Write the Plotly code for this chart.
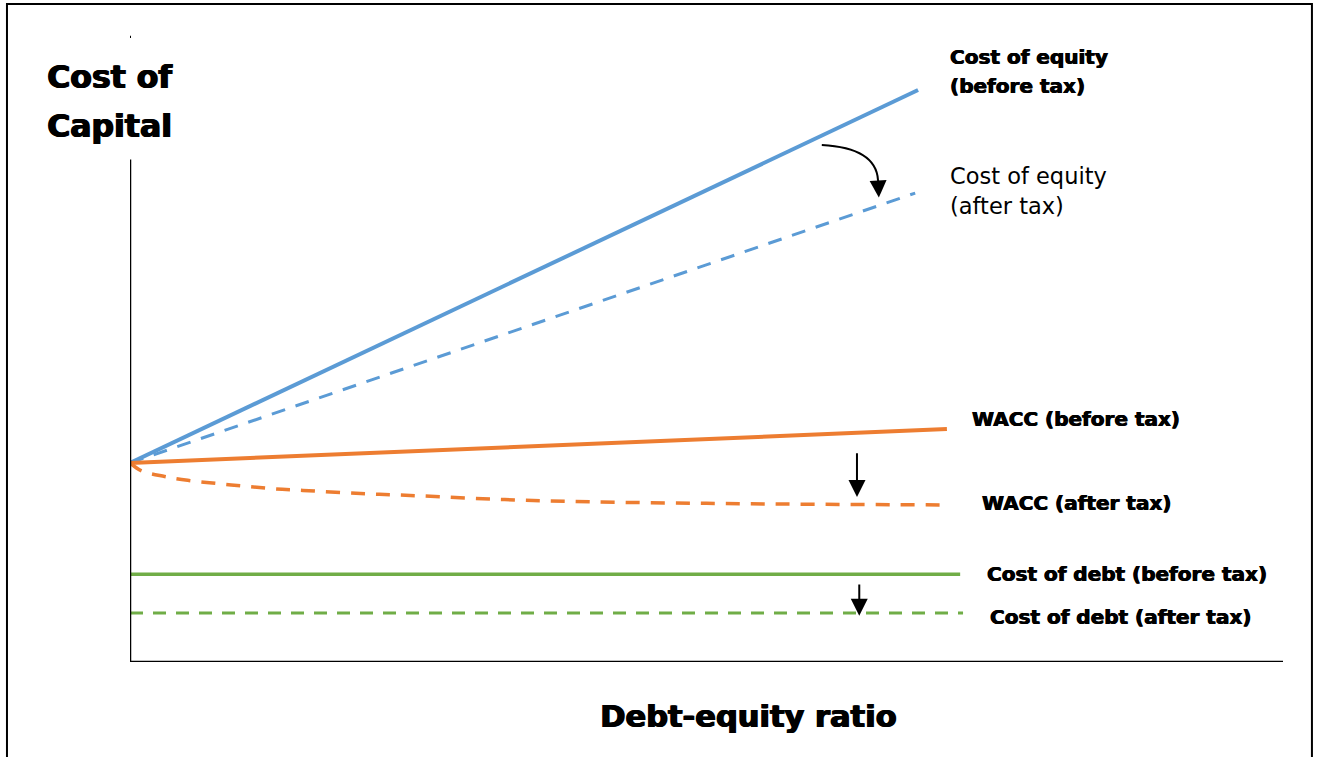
import plotly.graph_objects as go

# conceptual chart: cost of capital vs debt-equity ratio (arbitrary units)
equity_before_x = [0.0, 1.367]
equity_before_y = [6.30, 18.10]
equity_after_x = [0.0, 1.362]
equity_after_y = [6.30, 14.84]
wacc_before_x = [0.0, 1.417]
wacc_before_y = [6.30, 7.37]
wacc_after_x = [0.0, 0.02, 0.06, 0.1, 0.15, 0.2, 0.25, 0.3, 0.4, 0.5, 0.65, 0.8, 1.0, 1.2, 1.42]
wacc_after_y = [6.30, 6.05, 5.87, 5.75, 5.65, 5.56, 5.48, 5.43, 5.33, 5.26, 5.14, 5.07, 5.02, 4.99, 4.97]
debt_before_x = [0.0, 1.44]
debt_before_y = [2.78, 2.78]
debt_after_x = [0.0, 1.445]
debt_after_y = [1.55, 1.55]

BLUE = "#5B9BD5"
ORANGE = "#ED7D31"
GREEN = "#70AD47"
FONT = "DejaVu Sans"
# thicken the bold face a bit so it reads like a black weight
HEAVY = "0.6px 0 0 black, -0.4px 0 0 black"

fig = go.Figure()

# Cost of equity
fig.add_trace(go.Scatter(x=equity_before_x, y=equity_before_y, mode="lines",
                         line=dict(color=BLUE, width=4)))
fig.add_trace(go.Scatter(x=equity_after_x, y=equity_after_y, mode="lines",
                         line=dict(color=BLUE, width=3, dash="14px,11px")))
# WACC
fig.add_trace(go.Scatter(x=wacc_before_x, y=wacc_before_y, mode="lines",
                         line=dict(color=ORANGE, width=4)))
fig.add_trace(go.Scatter(x=wacc_after_x, y=wacc_after_y, mode="lines", line_shape="spline",
                         line=dict(color=ORANGE, width=3.5, dash="14px,11px")))
# Cost of debt
fig.add_trace(go.Scatter(x=debt_before_x, y=debt_before_y, mode="lines",
                         line=dict(color=GREEN, width=3.5)))
fig.add_trace(go.Scatter(x=debt_after_x, y=debt_after_y, mode="lines",
                         line=dict(color=GREEN, width=3, dash="13px,10px")))

# axes drawn as lines
fig.add_shape(type="line", x0=0, x1=0, y0=0, y1=15.9, line=dict(color="black", width=2.5))
fig.add_shape(type="line", x0=0, x1=2.0, y0=0, y1=0, line=dict(color="black", width=2.5))
fig.add_shape(type="line", x0=0, x1=0, y0=19.75, y1=19.82, line=dict(color="black", width=2))

# outer frame
fig.add_shape(type="rect", xref="paper", yref="paper", x0=-0.1067, x1=1.0251, y0=-0.25, y1=1.041,
              line=dict(color="black", width=2), fillcolor="rgba(0,0,0,0)")

# curved arrow from before-tax to after-tax cost of equity
fig.add_shape(type="path", path="M 1.200,16.36 Q 1.294,16.27 1.2975,15.25",
              line=dict(color="black", width=2))
arrows = [
    # (tail x, tail y, tip x, tip y)
    (1.2975, 15.30, 1.299, 14.70),
    (1.261, 6.65, 1.261, 5.22),
    (1.265, 2.50, 1.265, 1.46),
]
for ax, ay, x, y in arrows:
    fig.add_annotation(x=x, y=y, ax=ax, ay=ay, axref="x", ayref="y", xref="x", yref="y",
                       text="", showarrow=True, arrowhead=2, arrowsize=1.7, arrowwidth=2,
                       arrowcolor="black", standoff=0)

labels = [
    ("<b>Cost of equity</b>", 1.419, 19.15, 20, True),
    ("<b>(before tax)</b>", 1.419, 18.23, 20, True),
    ("Cost of equity", 1.419, 15.38, 22.5, False),
    ("(after tax)", 1.419, 14.43, 22.5, False),
    ("<b>WACC (before tax)</b>", 1.457, 7.69, 20, True),
    ("<b>WACC (after tax)</b>", 1.474, 5.03, 20, True),
    ("<b>Cost of debt (before tax)</b>", 1.483, 2.78, 20, True),
    ("<b>Cost of debt (after tax)</b>", 1.488, 1.42, 20, True),
]
for text, x, y, size, heavy in labels:
    fig.add_annotation(x=x, y=y, xref="x", yref="y", text=text, showarrow=False,
                       xanchor="left", yanchor="middle",
                       font=dict(family=FONT, size=size, color="black",
                                 shadow=HEAVY if heavy else "none"))

# axis titles (outside the plotting area, so paper coordinates)
titles = [
    ("<b>Cost of</b>", -0.0737, 0.9256, "left", 31.5),
    ("<b>Capital</b>", -0.0737, 0.8481, "left", 31.5),
    ("<b>Debt-equity ratio</b>", 0.536, -0.087, "center", 30.5),
]
for text, x, y, anchor, size in titles:
    fig.add_annotation(x=x, y=y, xref="paper", yref="paper", text=text, showarrow=False,
                       xanchor=anchor, yanchor="middle",
                       font=dict(family=FONT, size=size, color="black",
                                 shadow="0.9px 0 0 black, -0.6px 0 0 black"))

fig.update_layout(
    width=1318, height=757,
    margin=dict(l=130, r=35, t=30, b=95),
    paper_bgcolor="white", plot_bgcolor="white",
    showlegend=False,
)
fig.update_xaxes(range=[0, 2.0], visible=False)
fig.update_yaxes(range=[0, 20], visible=False)

# drop the default 8px body margin so the figure fills the window exactly
fig.write_html("out.html", config={"displayModeBar": False},
               post_script="document.body.style.margin = '0';")
